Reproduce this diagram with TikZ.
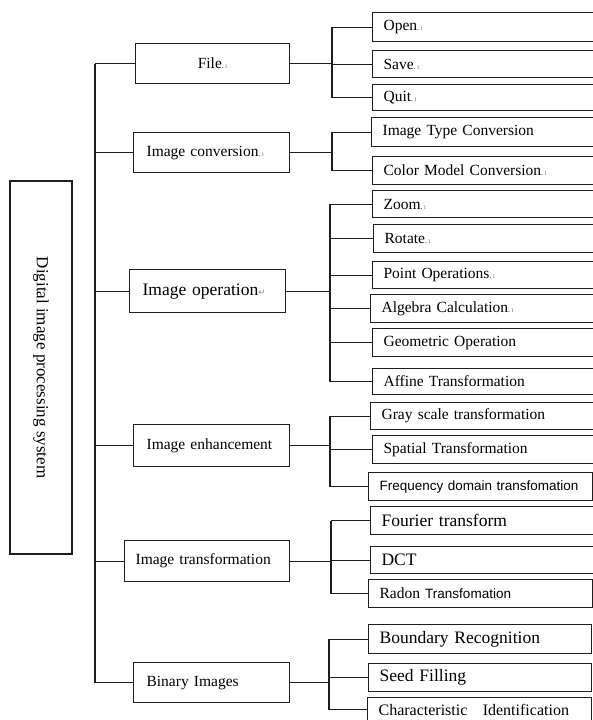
\documentclass[tikz,border=0pt]{standalone}
\usepackage{fontspec}
\setmainfont{Liberation Serif}
\newfontfamily\arialfont{Liberation Sans}
\newfontfamily\symfont{DejaVu Sans}
\usetikzlibrary{positioning}
\definecolor{lineDark}{HTML}{1E1E1E}
\definecolor{markGray}{HTML}{8A8A8A}
\newcommand\wordmark{{\fontsize{8}{8}\selectfont.\textcolor{markGray}{\,ı}}}
\newcommand\retmark{{\symfont\fontsize{9}{9}\selectfont\textcolor{markGray}{↵}}}
\tikzset{
  rootbox/.style={draw=lineDark, line width=1.2pt, rotate=-90, inner sep=0pt,
                  minimum width=373pt, minimum height=62pt, font=\fontsize{17}{20}\selectfont},
  midbox/.style={draw=lineDark, line width=1.2pt, anchor=north west, inner xsep=13pt,
                 inner ysep=0pt, text width=130pt, align=left, font=\fontsize{15.5}{18}\selectfont},
  leafbox/.style={draw=lineDark, line width=1.2pt, anchor=north west, inner xsep=11pt,
                  inner ysep=0pt, text width=206pt, align=left, font=\fontsize{15.5}{18}\selectfont},
  bigtxt/.style={font=\fontsize{17.5}{20}\selectfont},
  sanstxt/.style={font=\arialfont\fontsize{13.5}{16}\selectfont},
  link/.style={draw=lineDark, line width=1.2pt},
}

\begin{document}
\begin{tikzpicture}[x=1pt, y=-1pt]
  \useasboundingbox (0,0) rectangle (593,720);
  \node[rootbox] (root) at (41,367.5) {Digital image processing system};

  \node[midbox, text width=128pt, align=center, minimum height=40pt] (file) at (135,43) {File\wordmark};
  \node[midbox, minimum height=40pt] (conv) at (133,132) {Image conversion\wordmark};
  \node[midbox, minimum height=43pt, font=\fontsize{17.5}{20}\selectfont] (op) at (129,269) {Image operation\retmark};
  \node[midbox, minimum height=42pt] (enh) at (133,424) {Image enhancement};
  \node[midbox, inner xsep=11pt, text width=143pt, minimum height=41pt] (trans) at (124,540) {Image transformation};
  \node[midbox, minimum height=40pt] (bin) at (133,662) {Binary Images};

  \node[leafbox, minimum height=29pt] (open) at (372,12) {Open\wordmark};
  \node[leafbox, minimum height=27pt] (save) at (372,50) {Save\wordmark};
  \node[leafbox, minimum height=26pt] (quit) at (372,84) {Quit\wordmark};
  \node[leafbox, minimum height=29pt] (itc) at (371,117) {Image Type Conversion};
  \node[leafbox, minimum height=28pt] (cmc) at (372,156) {Color Model Conversion\wordmark};
  \node[leafbox, minimum height=27pt] (zoom) at (372,190) {Zoom\wordmark};
  \node[leafbox, minimum height=28pt] (rotate) at (373,224) {Rotate\wordmark};
  \node[leafbox, minimum height=27pt] (point) at (372,261) {Point Operations\wordmark};
  \node[leafbox, minimum height=28pt] (algebra) at (370,294) {Algebra Calculation\wordmark};
  \node[leafbox, minimum height=28pt] (geom) at (372,328) {Geometric Operation};
  \node[leafbox, minimum height=26pt] (affine) at (372,368) {Affine Transformation};
  \node[leafbox, minimum height=27pt] (gray) at (370,402) {Gray scale transformation};
  \node[leafbox, minimum height=28pt] (spatial) at (372,435) {Spatial Transformation};
  \node[leafbox, sanstxt, text width=202pt, minimum height=28pt] (freq) at (368,472) {Frequency domain transfomation};
  \node[leafbox, bigtxt, minimum height=28pt] (fourier) at (370,506) {Fourier transform};
  \node[leafbox, bigtxt, minimum height=27pt] (dct) at (370,546) {DCT};
  \node[leafbox, text width=202pt, minimum height=28pt] (radon) at (368,579) {Radon {\arialfont\fontsize{13.5}{16}\selectfont Transfomation}};
  \node[leafbox, bigtxt, text width=201pt, minimum height=29pt] (bound) at (368,624) {Boundary Recognition{\fontsize{8}{8}\selectfont\textcolor{markGray}{·}}};
  \node[leafbox, bigtxt, text width=201pt, minimum height=28pt] (seed) at (368,663) {Seed Filling};
  \node[leafbox, font=\fontsize{16}{19}\selectfont, text width=202pt, minimum height=24pt] (charid) at (367,697) {Characteristic\hspace{10pt} Identification};

  \coordinate (trunk) at (95,0);
  \coordinate (busA) at (332,0);
  \coordinate (busB) at (332,0);
  \coordinate (busC) at (330,0);
  \coordinate (busD) at (330,0);
  \coordinate (busE) at (331,0);
  \coordinate (busF) at (329,0);

  \draw[link] (trunk |- file.west) -- (trunk |- bin.west);
  \foreach \m in {file,conv,op,enh,trans,bin}
    \draw[link] (trunk |- \m.west) -- (\m.west);

  \draw[link] (file.east) -- (busA |- file.east);
  \draw[link] (busA |- open.west) -- (busA |- quit.west);
  \foreach \c in {open,save,quit}
    \draw[link] (busA |- \c.west) -- (\c.west);

  \draw[link] (conv.east) -- (busB |- conv.east);
  \draw[link] (busB |- itc.west) -- (busB |- cmc.west);
  \foreach \c in {itc,cmc}
    \draw[link] (busB |- \c.west) -- (\c.west);

  \draw[link] (op.east) -- (busC |- op.east);
  \draw[link] (busC |- zoom.west) -- (busC |- affine.west);
  \foreach \c in {zoom,rotate,point,algebra,geom,affine}
    \draw[link] (busC |- \c.west) -- (\c.west);

  \draw[link] (enh.east) -- (busD |- enh.east);
  \draw[link] (busD |- gray.west) -- (busD |- freq.west);
  \foreach \c in {gray,spatial,freq}
    \draw[link] (busD |- \c.west) -- (\c.west);

  \draw[link] (trans.east) -- (busE |- trans.east);
  \draw[link] (busE |- fourier.west) -- (busE |- radon.west);
  \foreach \c in {fourier,dct,radon}
    \draw[link] (busE |- \c.west) -- (\c.west);

  \draw[link] (bin.east) -- (busF |- bin.east);
  \draw[link] (busF |- bound.west) -- (busF |- charid.west);
  \foreach \c in {bound,seed,charid}
    \draw[link] (busF |- \c.west) -- (\c.west);
\end{tikzpicture}
\end{document}
